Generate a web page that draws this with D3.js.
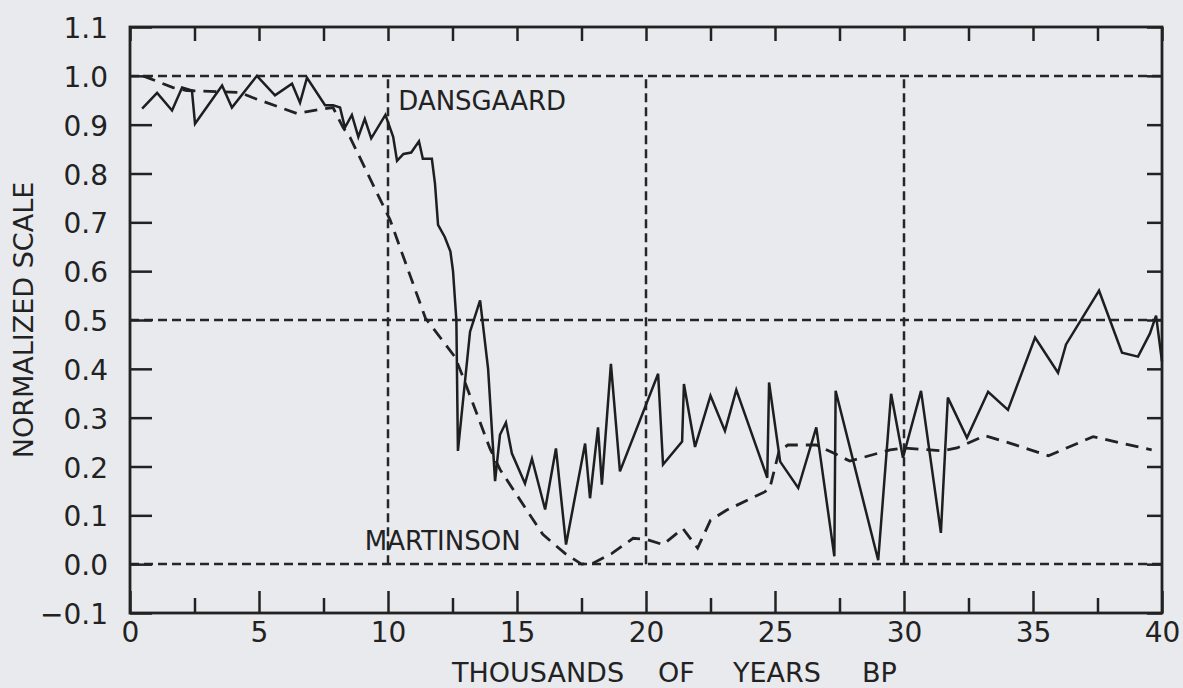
<!DOCTYPE html>
<html>
<head>
<meta charset="utf-8">
<script src="https://cdn.jsdelivr.net/npm/d3@7"></script>
<style>
	body { margin: 0; background: #e9eaee; }
	text { font-family: "DejaVu Sans", sans-serif; fill: #222; }
</style>
</head>
<body>
<div id="svg-container"></div>
<script>
var width = 1183;
var height = 688;

// solid curve (Dansgaard), thousands of years BP / normalized value
var dansgaardYears = [0.47, 1.05, 1.63, 2.02, 2.4, 2.52, 3.57, 3.95, 4.92, 5.62, 6.28, 6.59, 6.86, 7.56, 7.87, 8.14,
	8.33, 8.6, 8.85, 9.1, 9.35, 9.9, 10.2, 10.35, 10.6, 10.9, 11.2, 11.35, 11.7, 11.82, 11.94, 12.2, 12.42, 12.52,
	12.65, 12.71, 13.18, 13.57, 13.88, 14.15, 14.34, 14.57, 14.8, 15.31, 15.58, 16.09, 16.51, 16.9, 17.64, 17.83,
	18.14, 18.29, 18.64, 18.99, 20.47, 20.66, 21.4, 21.47, 21.9, 22.5, 23.06, 23.5, 24.7, 24.77, 25.2, 25.9, 26.6,
	27.3, 27.35, 29.0, 29.5, 29.96, 30.66, 31.43, 31.7, 32.44, 33.26, 34.03, 35.08, 35.97, 36.28, 37.56, 38.45,
	39.07, 39.53, 39.77, 40.0];
var dansgaardValues = [0.933, 0.965, 0.929, 0.976, 0.97, 0.902, 0.98, 0.935, 1.0, 0.96, 0.984, 0.945, 0.996, 0.94, 0.94, 0.935,
	0.894, 0.92, 0.875, 0.912, 0.872, 0.92, 0.875, 0.826, 0.84, 0.843, 0.866, 0.83, 0.83, 0.78, 0.695, 0.67, 0.64, 0.60,
	0.50, 0.232, 0.476, 0.54, 0.40, 0.17, 0.265, 0.29, 0.227, 0.165, 0.216, 0.112, 0.237, 0.04, 0.247, 0.135,
	0.28, 0.163, 0.41, 0.19, 0.39, 0.204, 0.251, 0.369, 0.24, 0.345, 0.273, 0.357, 0.177, 0.372, 0.21, 0.156, 0.28,
	0.016, 0.355, 0.008, 0.349, 0.218, 0.355, 0.064, 0.341, 0.259, 0.353, 0.316, 0.464, 0.392, 0.45, 0.56, 0.433,
	0.425, 0.472, 0.509, 0.415];

// dashed curve (Martinson)
var martinsonYears = [0.5, 1.67, 2.2, 4.26, 4.77, 6.47, 7.2, 7.87, 8.26, 8.53, 10.08, 11.45, 12.6, 12.9, 13.95, 14.34,
	16.0, 16.86, 17.5, 17.95, 18.68, 19.5, 20.0, 20.66, 21.43, 22.0, 22.5, 23.1, 24.6, 24.8, 25.16, 25.5, 26.6, 27.25,
	27.9, 29.46, 29.96, 31.5, 32.05, 33.14, 34.1, 35.6, 37.33, 39.6];
var martinsonValues = [1.0, 0.976, 0.97, 0.966, 0.955, 0.923, 0.93, 0.935, 0.894, 0.874, 0.705, 0.504, 0.424, 0.384, 0.237, 0.194,
	0.061, 0.022, 0.0, 0.002, 0.022, 0.053, 0.051, 0.04, 0.073, 0.033, 0.09, 0.11, 0.148, 0.156, 0.232, 0.244, 0.244, 0.228,
	0.211, 0.234, 0.238, 0.232, 0.238, 0.263, 0.248, 0.222, 0.261, 0.234];

var xMajorTicks = [0, 5, 10, 15, 20, 25, 30, 35, 40];
var xMinorTicks = [2.5, 7.5, 12.5, 17.5, 22.5, 27.5, 32.5, 37.5];
var yTicks = [-0.1, 0.0, 0.1, 0.2, 0.3, 0.4, 0.5, 0.6, 0.7, 0.8, 0.9, 1.0, 1.1];
var gridY = [0.0, 0.5, 1.0];
var gridX = [10, 20, 30];
var xTitleWords = ["THOUSANDS", "OF", "YEARS", "BP"];
var xTitleAt = [452, 658, 733, 862];

// plot frame (not "top": that name is taken by window.top)
var frameLeft = 130, frameRight = 1162, frameTop = 27, frameBottom = 613;

var svg = d3.select("#svg-container").append("svg")
	.attr("width", width)
	.attr("height", height);

svg.append("rect")
	.attr("width", width)
	.attr("height", height)
	.attr("fill", "#e9eaee");

var x = d3.scaleLinear().domain([0, 40]).range([frameLeft, frameRight]);
var y = d3.scaleLinear().domain([-0.1, 1.1]).range([frameBottom, frameTop]);

// dashed reference lines
svg.selectAll("line.gridy")
	.data(gridY)
	.enter()
	.append("line")
	.attr("x1", x(0))
	.attr("x2", x(40))
	.attr("y1", function(d) { return Math.round(y(d)); })
	.attr("y2", function(d) { return Math.round(y(d)); })
	.attr("stroke", "#262626")
	.attr("stroke-width", 2.5)
	.attr("stroke-dasharray", "9,5");

svg.selectAll("line.gridx")
	.data(gridX)
	.enter()
	.append("line")
	.attr("x1", function(d) { return Math.round(x(d)); })
	.attr("x2", function(d) { return Math.round(x(d)); })
	.attr("y1", y(0))
	.attr("y2", y(1))
	.attr("stroke", "#262626")
	.attr("stroke-width", 2.5)
	.attr("stroke-dasharray", "9,5");

// axes, ticks pointing inward
function styleAxis(g) {
	g.select(".domain").remove();
	g.selectAll("line").attr("stroke", "#222").attr("stroke-width", 2.5);
	g.selectAll("text").attr("font-size", 28).attr("fill", "#222").attr("font-family", "DejaVu Sans");
}

svg.append("g")
	.attr("transform", "translate(0," + frameBottom + ")")
	.call(d3.axisBottom(x).tickValues(xMajorTicks).tickSize(-22).tickPadding(9).tickFormat(d3.format("d")))
	.call(styleAxis);

svg.append("g")
	.attr("transform", "translate(0," + frameBottom + ")")
	.call(d3.axisBottom(x).tickValues(xMinorTicks).tickSize(-15).tickFormat(""))
	.call(styleAxis);

svg.append("g")
	.attr("transform", "translate(0," + frameTop + ")")
	.call(d3.axisTop(x).tickValues(xMajorTicks.concat(xMinorTicks)).tickSize(-14).tickFormat(""))
	.call(styleAxis);

svg.append("g")
	.attr("transform", "translate(" + frameLeft + ",0)")
	.call(d3.axisLeft(y).tickValues(yTicks).tickSize(-22).tickPadding(22).tickFormat(d3.format(".1f")))
	.call(styleAxis)
	.selectAll("text").attr("dy", "0.38em");

svg.append("g")
	.attr("transform", "translate(" + frameRight + ",0)")
	.call(d3.axisRight(y).tickValues(yTicks).tickSize(-15).tickFormat(""))
	.call(styleAxis);

svg.append("rect")
	.attr("x", frameLeft)
	.attr("y", frameTop)
	.attr("width", frameRight - frameLeft)
	.attr("height", frameBottom - frameTop)
	.attr("fill", "none")
	.attr("stroke", "#222")
	.attr("stroke-width", 2.8);

// series
var line = d3.line()
	.x(function(d) { return x(d[0]); })
	.y(function(d) { return y(d[1]); });

svg.append("path")
	.datum(d3.zip(martinsonYears, martinsonValues))
	.attr("d", line)
	.attr("fill", "none")
	.attr("stroke", "#222")
	.attr("stroke-width", 2.8)
	.attr("stroke-dasharray", "13,8");

svg.append("path")
	.datum(d3.zip(dansgaardYears, dansgaardValues))
	.attr("d", line)
	.attr("fill", "none")
	.attr("stroke", "#1e1e1e")
	.attr("stroke-width", 2.5)
	.attr("stroke-linejoin", "miter");

// labels
svg.append("text")
	.attr("x", x(10.4))
	.attr("y", y(0.93))
	.attr("font-size", 26)
	.text("DANSGAARD");

svg.append("text")
	.attr("x", x(9.1))
	.attr("y", y(0.03))
	.attr("font-size", 26)
	.text("MARTINSON");

svg.selectAll("text.xtitle")
	.data(xTitleWords)
	.enter()
	.append("text")
	.attr("x", function(d, i) { return xTitleAt[i]; })
	.attr("y", 682)
	.attr("font-size", 27)
	.text(function(d) { return d; });

svg.append("text")
	.attr("transform", "translate(33," + y(0.5) + ") rotate(-90)")
	.attr("text-anchor", "middle")
	.attr("font-size", 27)
	.text("NORMALIZED  SCALE");
</script>
</body>
</html>
